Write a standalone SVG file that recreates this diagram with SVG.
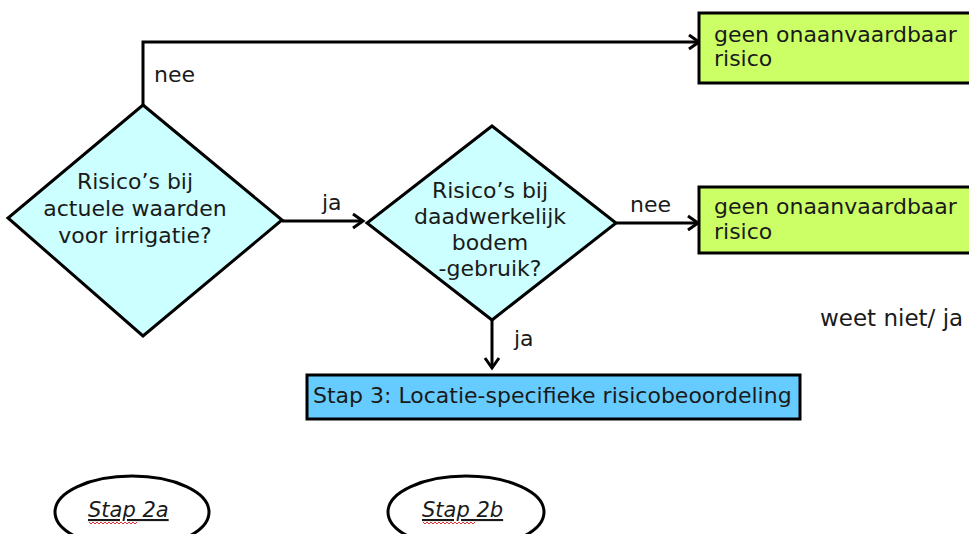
<svg xmlns="http://www.w3.org/2000/svg" width="969" height="534" viewBox="0 0 969 534">
<defs>
<marker id="arr" markerUnits="userSpaceOnUse" markerWidth="16" markerHeight="18" viewBox="0 0 16 18" refX="13" refY="9" orient="auto">
<path d="M3,2 L13,9 L3,16" fill="none" stroke="#000" stroke-width="3"/>
</marker>
<style>
text{font-family:"DejaVu Sans",Verdana,sans-serif;font-size:22px;fill:#1a1a1a}
.c{text-anchor:middle}
.dia{fill:#ccffff;stroke:#000;stroke-width:3}
.grn{fill:#ccff66;stroke:#000;stroke-width:3}
.blu{fill:#66ccff;stroke:#000;stroke-width:3}
.ell{fill:#fff;stroke:#000;stroke-width:3}
.con{fill:none;stroke:#000;stroke-width:3;marker-end:url(#arr)}
.st{font-size:21px;font-style:italic;text-decoration:underline}
.sq{fill:none;stroke:#e03030;stroke-width:1}
</style>
</defs>
<g id="connectors">
<path class="con" d="M143,105 V42 H699"/>
<path class="con" d="M282,221 H363"/>
<path class="con" d="M616,223 H698"/>
<path class="con" d="M492,320 V368"/>
<text x="154" y="82">nee</text>
<text x="322" y="210">ja</text>
<text x="630" y="212">nee</text>
<text x="514" y="346">ja</text>
</g>
<g id="d1">
<polygon class="dia" points="143,105 282,220 143,336 8,218"/>
<text class="c" x="135" y="189">Risico’s bij</text>
<text class="c" x="135" y="216">actuele waarden</text>
<text class="c" x="135" y="243">voor irrigatie?</text>
</g>
<g id="d2">
<polygon class="dia" points="492,126 616,223 492,320 367,223"/>
<text class="c" x="490" y="198">Risico’s bij</text>
<text class="c" x="490" y="224">daadwerkelijk</text>
<text class="c" x="490" y="250">bodem</text>
<text class="c" x="490" y="276">-gebruik?</text>
</g>
<g id="g1">
<rect class="grn" x="699" y="13" width="285" height="70"/>
<text x="714" y="42">geen onaanvaardbaar</text>
<text x="714" y="66">risico</text>
</g>
<g id="g2">
<rect class="grn" x="699" y="187" width="285" height="66"/>
<text x="714" y="214">geen onaanvaardbaar</text>
<text x="714" y="239">risico</text>
</g>
<g id="weet">
<text x="820" y="326" style="font-size:23px">weet niet/ ja</text>
</g>
<g id="stap3">
<rect class="blu" x="307" y="375" width="493" height="44"/>
<text x="313" y="403">Stap 3: Locatie-specifieke risicobeoordeling</text>
</g>
<g id="s2a">
<ellipse class="ell" cx="132" cy="512" rx="77" ry="36"/>
<text class="st" x="88" y="517">Stap 2a</text>
<path class="sq" d="M89,522 l2,2 l2,-2 l2,2 l2,-2 l2,2 l2,-2 l2,2 l2,-2 l2,2 l2,-2 l2,2 l2,-2 l2,2 l2,-2 l2,2 l2,-2 l2,2 l2,-2 l2,2 l2,-2 l2,2 l2,-2 l2,2 l2,-2"/>
</g>
<g id="s2b">
<ellipse class="ell" cx="466" cy="512" rx="78" ry="36"/>
<text class="st" x="422" y="517">Stap 2b</text>
<path class="sq" d="M423,522 l2,2 l2,-2 l2,2 l2,-2 l2,2 l2,-2 l2,2 l2,-2 l2,2 l2,-2 l2,2 l2,-2 l2,2 l2,-2 l2,2 l2,-2 l2,2 l2,-2 l2,2 l2,-2 l2,2 l2,-2 l2,2 l2,-2 l2,2 l2,-2"/>
</g>
</svg>
